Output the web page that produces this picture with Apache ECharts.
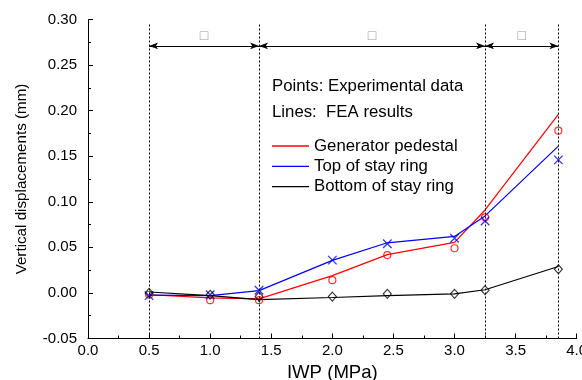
<!DOCTYPE html>
<html>
<head>
<meta charset="utf-8">
<script src="https://cdn.jsdelivr.net/npm/echarts@6/dist/echarts.min.js"></script>
<style>
  html, body {margin: 0; padding: 0; background: #fff;}
  #chart {width: 582px; height: 380px;}
</style>
</head>
<body>
<div id="chart"></div>
<script>
// IWP load steps (MPa)
const iwp = [0.5, 1.0, 1.4, 2.0, 2.45, 3.0, 3.25, 3.85];

// FEA results (lines), mm
const feaPedestal = [-0.002, -0.0055, -0.0065, 0.019, 0.042, 0.0555, 0.091, 0.196];
const feaTopRing = [-0.0025, -0.003, 0.0025, 0.0357, 0.055, 0.062, 0.0845, 0.161];
const feaBottomRing = [0.001, -0.003, -0.0073, -0.005, -0.003, -0.001, 0.0035, 0.029];

// experimental data (points), mm
const expPedestal = [-0.002, -0.008, -0.008, 0.014, 0.0415, 0.049, 0.083, 0.178];
const expTopRing = [-0.003, -0.002, 0.003, 0.036, 0.054, 0.060, 0.079, 0.146];
const expBottomRing = [0, -0.002, -0.004, -0.004, -0.001, -0.001, 0.003, 0.026];

// stage boundaries and stage labels
const stages = [0.5, 1.4, 3.25, 3.85];
const stageNames = ['□', '□', '□'];
const stageTop = 0.295;
const arrowY = 0.271;

const seriesNames = ['Generator pedestal', 'Top of stay ring', 'Bottom of stay ring'];

const pairs = (ys) => iwp.map((x, i) => [x, ys[i]]);
const FONT = 'Liberation Sans, Arial, sans-serif';

const chart = echarts.init(document.getElementById('chart'));

const lineSeries = (name, ys, color) => ({
  name: name,
  type: 'line',
  data: pairs(ys),
  symbol: 'none',
  lineStyle: {color: color, width: 1.2},
  itemStyle: {color: color},
  z: 3,
});

chart.setOption({
  animation: false,
  backgroundColor: '#fff',
  textStyle: {fontFamily: FONT},
  grid: {left: 88, right: 5.3, top: 19.5, bottom: 41.5, containLabel: false, outerBoundsMode: 'none'},
  legend: {
    orient: 'vertical',
    left: 272,
    top: 137.5,
    padding: 0,
    icon: 'rect',
    itemWidth: 37,
    itemHeight: 1.3,
    itemGap: 3.3,
    data: seriesNames,
    textStyle: {color: '#000', fontSize: 16.8, lineHeight: 17, fontFamily: FONT},
  },
  graphic: [
    {type: 'text', left: 272, top: 78, style: {text: 'Points: Experimental data', fill: '#000', font: '16.8px ' + FONT}},
    {type: 'text', left: 272, top: 103.5, style: {text: 'Lines:  FEA results', fill: '#000', font: '16.8px ' + FONT}},
  ],
  xAxis: {
    type: 'value',
    min: 0,
    max: 4,
    interval: 0.5,
    name: 'IWP (MPa)',
    nameLocation: 'middle',
    nameGap: 18,
    nameTextStyle: {color: '#000', fontSize: 18.6, fontFamily: FONT},
    axisLine: {onZero: false, lineStyle: {color: '#000', width: 1}},
    axisTick: {inside: true, length: 5, lineStyle: {color: '#000'}},
    minorTick: {show: true, splitNumber: 2, length: 3, lineStyle: {color: '#000'}},
    splitLine: {show: false},
    axisLabel: {color: '#000', fontSize: 15, margin: 5, formatter: (v) => v.toFixed(1)},
  },
  yAxis: {
    type: 'value',
    min: -0.05,
    max: 0.30,
    interval: 0.05,
    name: 'Vertical displacements (mm)',
    nameLocation: 'middle',
    nameGap: 59,
    nameTextStyle: {color: '#000', fontSize: 15.2, fontFamily: FONT},
    axisLine: {show: true, onZero: false, lineStyle: {color: '#000', width: 1}},
    axisTick: {show: true, inside: true, length: 5, lineStyle: {color: '#000'}},
    minorTick: {show: true, splitNumber: 2, length: 3, lineStyle: {color: '#000'}},
    splitLine: {show: false},
    axisLabel: {color: '#000', fontSize: 15, margin: 11, formatter: (v) => v.toFixed(2)},
  },
  series: [
    lineSeries(seriesNames[0], feaPedestal, '#ff0000'),
    lineSeries(seriesNames[1], feaTopRing, '#0000ff'),
    Object.assign(lineSeries(seriesNames[2], feaBottomRing, '#000000'), {
      markLine: {
        silent: true,
        symbol: 'none',
        label: {show: false},
        lineStyle: {color: '#000', type: [2, 2], width: 1},
        data: stages.map((x) => [{coord: [x, -0.05]}, {coord: [x, stageTop]}]),
      },
    }),
    {
      name: 'stage arrows',
      type: 'line',
      data: [],
      markLine: {
        silent: true,
        symbol: ['arrow', 'arrow'],
        symbolSize: [5, 9],
        lineStyle: {color: '#000', type: 'solid', width: 1.2},
        label: {
          show: true,
          position: 'middle',
          distance: 3,
          color: '#999',
          fontSize: 14,
          formatter: (p) => p.name,
        },
        data: stageNames.map((n, i) => [
          {name: n, coord: [stages[i], arrowY]},
          {coord: [stages[i + 1], arrowY]},
        ]),
      },
    },
    {
      name: 'exp pedestal',
      type: 'scatter',
      data: pairs(expPedestal),
      symbol: 'circle',
      symbolSize: 7,
      itemStyle: {color: 'rgba(255,255,255,0)', borderColor: '#ff0000', borderWidth: 1.2},
      z: 4,
    },
    {
      name: 'exp top ring',
      type: 'scatter',
      data: pairs(expTopRing),
      symbol: 'path://M0,0L10,10M10,0L0,10',
      symbolSize: 8.5,
      itemStyle: {color: 'rgba(0,0,0,0)', borderColor: '#0000ff', borderWidth: 1.3},
      z: 4,
    },
    {
      name: 'exp bottom ring',
      type: 'scatter',
      data: pairs(expBottomRing),
      symbol: 'diamond',
      symbolSize: [8, 9],
      itemStyle: {color: 'rgba(255,255,255,0)', borderColor: '#000000', borderWidth: 1.1},
      z: 4,
    },
  ],
});
</script>
</body>
</html>
